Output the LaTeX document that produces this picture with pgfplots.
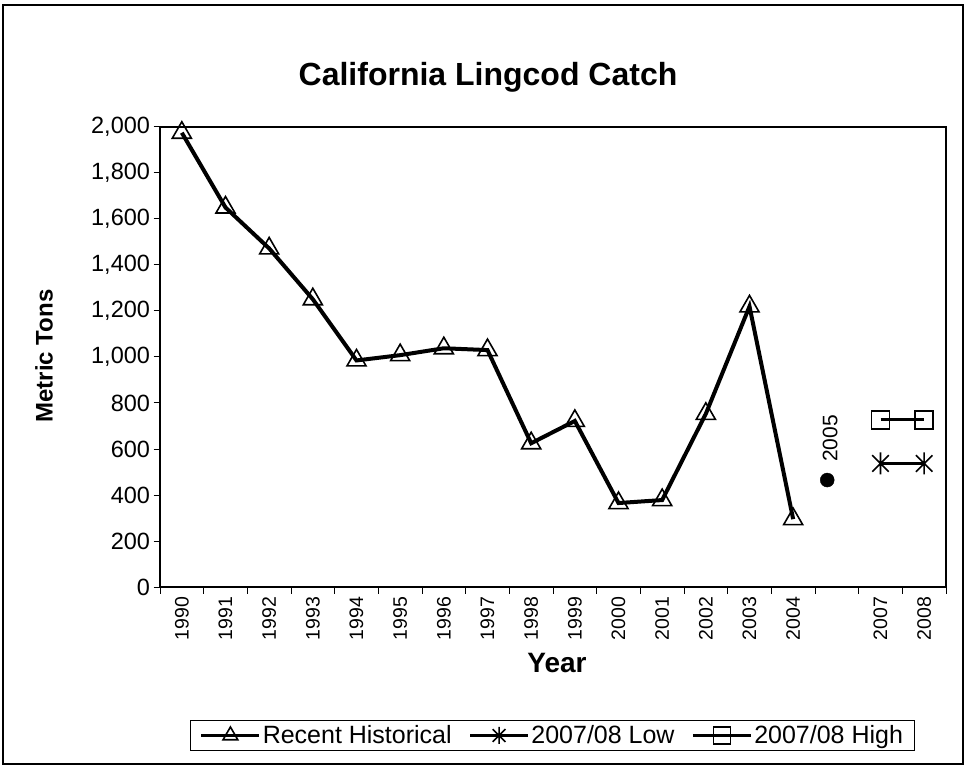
\documentclass[border=0pt]{standalone}
\usepackage{fontspec}
\setmainfont{Liberation Sans}
\usepackage{pgfplots}
\usepackage{pgfplotstable}
\pgfplotsset{compat=1.18}

% star marker: vertical bar plus an X
\pgfdeclareplotmark{xstar}{%
  \pgfpathmoveto{\pgfqpoint{0pt}{-\pgfplotmarksize}}%
  \pgfpathlineto{\pgfqpoint{0pt}{\pgfplotmarksize}}%
  \pgfpathmoveto{\pgfqpoint{-0.75\pgfplotmarksize}{-0.75\pgfplotmarksize}}%
  \pgfpathlineto{\pgfqpoint{0.75\pgfplotmarksize}{0.75\pgfplotmarksize}}%
  \pgfpathmoveto{\pgfqpoint{-0.75\pgfplotmarksize}{0.75\pgfplotmarksize}}%
  \pgfpathlineto{\pgfqpoint{0.75\pgfplotmarksize}{-0.75\pgfplotmarksize}}%
  \pgfusepathqstroke}

% catch by year (index 0 = 1990)
\pgfplotstableread{
x y
0 1975
1 1650
2 1472
3 1251
4 985
5 1008
6 1038
7 1030
8 625
9 722
10 365
11 378
12 753
13 1220
14 295
}\historical

\begin{document}
\begin{tikzpicture}
\path[use as bounding box] (-160bp,-179bp) rectangle (805bp,587bp);
\draw[line width=2bp] (-156.5bp,-177bp) rectangle (802.5bp,582bp);

\begin{axis}[
  at={(0,0)}, anchor=south west,
  scale only axis, width=786bp, height=460bp,
  xmin=-0.5, xmax=17.5, ymin=0, ymax=2000,
  axis line style={line width=1.6bp},
  xtick={-0.5,0.5,...,17.5},
  x tick label as interval,
  xticklabels={1990,1991,1992,1993,1994,1995,1996,1997,1998,1999,2000,2001,2002,2003,2004,{},2007,2008},
  ytick={0,200,...,2000},
  xtick pos=lower, ytick pos=left,
  tick align=outside,
  major tick length=6.5bp,
  tick style={line width=1bp, black},
  scaled y ticks=false,
  /pgf/number format/assume math mode=true,
  y tick label style={/pgf/number format/fixed, /pgf/number format/1000 sep={,},
    font=\fontsize{23.5bp}{28bp}\selectfont},
  x tick label style={rotate=90, anchor=east, font=\fontsize{19.5bp}{23bp}\selectfont},
  legend columns=3,
  legend cell align=left,
  legend image code/.code={%
    \draw[mark repeat=2, mark phase=2, line width=2.7bp, mark size=8.5bp]
      plot coordinates {(0bp,0bp) (29bp,0bp) (58bp,0bp)};},
  legend style={at={(0.4994,-0.3228)}, anchor=center, draw=black, line width=1bp,
    font=\fontsize{25bp}{30bp}\selectfont, inner xsep=10bp, inner ysep=3bp,
    /tikz/every even column/.append style={column sep=15bp}},
]
\addplot[black, line width=4bp, mark=triangle, mark size=11bp,
  mark options={line width=1.6bp}] table {\historical};
\addlegendentry{Recent Historical}
\addplot[black, line width=3bp, mark=xstar, mark size=11bp,
  mark options={line width=1.6bp}] coordinates {(16,537) (17,537)};
\addlegendentry{2007/08 Low}
\addplot[black, line width=3bp, mark=square, mark size=9bp,
  mark options={line width=1.6bp}] coordinates {(16,727) (17,727)};
\addlegendentry{2007/08 High}
\addplot[forget plot, only marks, black, mark=*, mark size=7bp] coordinates {(14.78,465)};
\node[rotate=90, anchor=west, inner sep=0pt, font=\fontsize{21bp}{25bp}\selectfont]
  at ([yshift=18bp,xshift=3bp]axis cs:14.78,465) {2005};
\end{axis}

\node[anchor=base, font=\bfseries\fontsize{32bp}{38bp}\selectfont] at (328bp,501bp) {California Lingcod Catch};
\node[rotate=90, font=\bfseries\fontsize{24bp}{29bp}\selectfont] at (-116bp,231bp) {Metric Tons};
\node[anchor=base, font=\bfseries\fontsize{28bp}{33bp}\selectfont] at (397bp,-85bp) {Year};
\end{tikzpicture}
\end{document}
